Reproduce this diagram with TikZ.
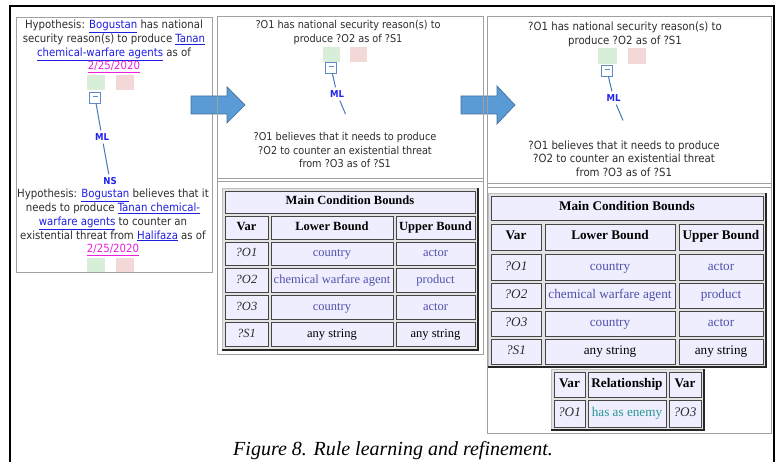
\documentclass[tikz,border=0pt]{standalone}
\usepackage{fontspec}
\setmainfont{Liberation Serif}
\newfontfamily\tah{DejaVu Sans Condensed}
\usetikzlibrary{calc}
\definecolor{linkblue}{RGB}{30,30,225}
\definecolor{datemag}{RGB}{235,30,225}
\definecolor{txtgray}{RGB}{45,45,45}
\definecolor{sqgreen}{RGB}{216,238,216}
\definecolor{sqpink}{RGB}{243,216,216}
\definecolor{minusblue}{RGB}{95,140,200}
\definecolor{connblue}{RGB}{70,120,185}
\definecolor{mlblue}{RGB}{35,35,240}
\definecolor{cellfill}{RGB}{238,238,254}
\definecolor{valblue}{RGB}{80,80,170}
\definecolor{relteal}{RGB}{40,150,150}
\definecolor{arrfill}{RGB}{91,155,213}
\definecolor{arrdraw}{RGB}{65,113,156}
\definecolor{panelgray}{RGB}{160,160,160}
\newcommand{\lnk}[1]{\textcolor{linkblue}{\underline{#1}}}
\newcommand{\dte}[1]{\textcolor{datemag}{\underline{#1}}}
\newcommand{\tblcell}[6]{\node[tcellsty, minimum width={(#4-#2)*1pt}, minimum height={(#5-#3)*1pt}] (#1) at ({(#2+#4)/2},{(#3+#5)/2}) {#6};}
\tikzset{
  panel/.style={draw=panelgray, line width=0.8pt},
  ptxt/.style={align=center, text=txtgray, inner sep=0pt},
  sqg/.style={fill=sqgreen, draw=none},
  sqp/.style={fill=sqpink, draw=none},
  minusbox/.style={draw=minusblue, fill=white, line width=0.8pt, minimum width=11pt, minimum height=11pt, inner sep=0pt},
  mllabel/.style={text=mlblue, font=\tah\bfseries\fontsize{9.5}{10}\selectfont, inner sep=3pt},
  conn/.style={draw=connblue, line width=1pt},
  tcellsty/.style={draw=gray!55!black, line width=0.5pt, fill=cellfill, inner sep=0pt, text height=8.5pt, text depth=2.5pt, font=\fontsize{12.5}{14}\selectfont},
  tblframe/.style={draw=gray!50, fill=gray!22, line width=0.8pt},
  blockarrow/.style={fill=arrfill, draw=arrdraw, line width=0.7pt},
}
\begin{document}
\begin{tikzpicture}[x=1pt, y=-1pt]
\useasboundingbox (0,0) rectangle (778,462);
\clip (0,0) rectangle (778,462);
\fill[white] (0,0) rectangle (778,462);
% outer frame
\draw[line width=2.5pt] (10,6) rectangle (774,490);

% ---------- left panel ----------
\draw[panel] (16,17) rectangle (212,272);
\node[ptxt, font=\tah\fontsize{11.3}{13.8}\selectfont] (lt) at (114,46.5)
 {Hypothesis: \lnk{Bogustan} has national\\ security reason(s) to produce \lnk{Tanan}\\ \lnk{chemical-warfare agents} as of\\ \dte{2/25/2020}};
\fill[sqg] (87,75) rectangle (105,90);
\fill[sqp] (116,75) rectangle (134,90);
\node[minusbox] (mb1) at (95,97.5) {\textcolor{minusblue}{\rule[2.3pt]{5pt}{0.8pt}}};
\node[mllabel] (ml1) at (102,137) {ML};
\node[mllabel] (ns1) at (110,181) {NS};
\draw[conn] (mb1) -- (ml1);
\draw[conn] (ml1) -- (ns1);
\node[ptxt, font=\tah\fontsize{11.3}{13.8}\selectfont] (lb) at (113,222.5)
 {Hypothesis: \lnk{Bogustan} believes that it\\ needs to produce \lnk{Tanan chemical-}\\ \lnk{warfare agents} to counter an\\ existential threat from \lnk{Halifaza} as of\\ \dte{2/25/2020}};
\fill[sqg] (87,258) rectangle (105,271.5);
\fill[sqp] (116,258) rectangle (134,271.5);

% ---------- arrows ----------
\filldraw[blockarrow] (191,96) -- (227,96) -- (227,87) -- (245,105) -- (227,123) -- (227,114) -- (191,114) -- cycle;
\filldraw[blockarrow] (461,96) -- (497,96) -- (497,86) -- (515,105) -- (497,124) -- (497,114) -- (461,114) -- cycle;

% ---------- middle panel ----------
\draw[panel] (217,16) rectangle (483,354);
\draw[panel] (217,178) -- (483,178);
\draw[panel] (217,181.5) -- (483,181.5);
\node[ptxt, font=\tah\fontsize{10.8}{14}\selectfont] (mt) at (348,33)
 {?O1 has national security reason(s) to\\ produce ?O2 as of ?S1};
\fill[sqg] (323,47) rectangle (340,62);
\fill[sqp] (350,47) rectangle (367,62);
\node[minusbox] (mb2) at (331,67.5) {\textcolor{minusblue}{\rule[2.3pt]{5pt}{0.8pt}}};
\node[mllabel] (ml2) at (337,94) {ML};
\coordinate (end2) at (345.5,114);
\draw[conn] (mb2) -- (ml2);
\draw[conn] (ml2) -- (end2);
\node[ptxt, font=\tah\fontsize{10.8}{13.4}\selectfont] (mbt) at (345,150)
 {?O1 believes that it needs to produce\\ ?O2 to counter an existential threat\\ from ?O3 as of ?S1};
% table
\draw[tblframe] (222,188) rectangle (478,350);
\draw[gray!30!black, line width=1.2pt] (478,188) -- (478,350) -- (222,350);
\tblcell{mT}{225}{191}{475}{213}{\textbf{Main Condition Bounds}}
\tblcell{mh1}{225}{216}{268}{239}{\textbf{Var}}
\tblcell{mh2}{271}{216}{393}{239}{\textbf{Lower Bound}}
\tblcell{mh3}{396}{216}{475}{239}{\textbf{Upper Bound}}
\tblcell{ma1}{225}{242}{268}{265}{\textcolor{txtgray}{\itshape ?O1}}
\tblcell{ma2}{271}{242}{393}{265}{\textcolor{valblue}{country}}
\tblcell{ma3}{396}{242}{475}{265}{\textcolor{valblue}{actor}}
\tblcell{mb1c}{225}{268}{268}{292}{\textcolor{txtgray}{\itshape ?O2}}
\tblcell{mb2c}{271}{268}{393}{292}{\textcolor{valblue}{chemical warfare agent}}
\tblcell{mb3c}{396}{268}{475}{292}{\textcolor{valblue}{product}}
\tblcell{mc1}{225}{295}{268}{319}{\textcolor{txtgray}{\itshape ?O3}}
\tblcell{mc2}{271}{295}{393}{319}{\textcolor{valblue}{country}}
\tblcell{mc3}{396}{295}{475}{319}{\textcolor{valblue}{actor}}
\tblcell{md1}{225}{322}{268}{346}{\textcolor{txtgray}{\itshape ?S1}}
\tblcell{md2}{271}{322}{393}{346}{any string}
\tblcell{md3}{396}{322}{475}{346}{any string}

% ---------- right panel ----------
\draw[panel] (487,16) rectangle (771,433);
\draw[panel] (487,183) -- (771,183);
\draw[panel] (487,187) -- (771,187);
\node[ptxt, font=\tah\fontsize{11.3}{14.5}\selectfont] (rt) at (625,34.5)
 {?O1 has national security reason(s) to\\ produce ?O2 as of ?S1};
\fill[sqg] (598,48) rectangle (617,64);
\fill[sqp] (628,48) rectangle (646,64);
\node[minusbox] (mb3) at (607,70.5) {\textcolor{minusblue}{\rule[2.3pt]{5pt}{0.8pt}}};
\node[mllabel] (ml3) at (613.5,98) {ML};
\coordinate (end3) at (623,120.5);
\draw[conn] (mb3) -- (ml3);
\draw[conn] (ml3) -- (end3);
\node[ptxt, font=\tah\fontsize{11.3}{13.5}\selectfont] (rbt) at (624,158.5)
 {?O1 believes that it needs to produce\\ ?O2 to counter an existential threat\\ from ?O3 as of ?S1};
% right table
\begin{scope}[tcellsty/.append style={font=\fontsize{13.2}{14}\selectfont}]
\draw[tblframe] (488,193) rectangle (766,367);
\draw[gray!30!black, line width=1.2pt] (766,193) -- (766,367) -- (488,367);
\tblcell{rT}{491}{196}{763}{220}{\textbf{Main Condition Bounds}}
\tblcell{rh1}{491}{224}{541}{250}{\textbf{Var}}
\tblcell{rh2}{545}{224}{675}{250}{\textbf{Lower Bound}}
\tblcell{rh3}{679}{224}{763}{250}{\textbf{Upper Bound}}
\tblcell{ra1}{491}{254}{541}{280}{\textcolor{txtgray}{\itshape ?O1}}
\tblcell{ra2}{545}{254}{675}{280}{\textcolor{valblue}{country}}
\tblcell{ra3}{679}{254}{763}{280}{\textcolor{valblue}{actor}}
\tblcell{rb1}{491}{283}{541}{308}{\textcolor{txtgray}{\itshape ?O2}}
\tblcell{rb2}{545}{283}{675}{308}{\textcolor{valblue}{chemical warfare agent}}
\tblcell{rb3}{679}{283}{763}{308}{\textcolor{valblue}{product}}
\tblcell{rc1}{491}{311}{541}{336}{\textcolor{txtgray}{\itshape ?O3}}
\tblcell{rc2}{545}{311}{675}{336}{\textcolor{valblue}{country}}
\tblcell{rc3}{679}{311}{763}{336}{\textcolor{valblue}{actor}}
\tblcell{rd1}{491}{339}{541}{364}{\textcolor{txtgray}{\itshape ?S1}}
\tblcell{rd2}{545}{339}{675}{364}{any string}
\tblcell{rd3}{679}{339}{763}{364}{any string}
% relationship table
\draw[tblframe] (551,369) rectangle (704,430);
\draw[gray!30!black, line width=1.2pt] (704,369) -- (704,430) -- (551,430);
\tblcell{sh1}{554}{372}{585}{397}{\textbf{Var}}
\tblcell{sh2}{588}{372}{666}{397}{\textbf{Relationship}}
\tblcell{sh3}{669}{372}{701}{397}{\textbf{Var}}
\tblcell{sa1}{554}{400}{585}{427}{\textcolor{txtgray}{\itshape ?O1}}
\tblcell{sa2}{588}{400}{666}{427}{\textcolor{relteal}{has as enemy}}
\tblcell{sa3}{669}{400}{701}{427}{\textcolor{txtgray}{\itshape ?O3}}
\end{scope}

% caption
\node[anchor=base, inner sep=0pt, font=\itshape\fontsize{20}{24}\selectfont] (cap) at (393,455) {Figure 8. Rule learning and refinement.};
\end{tikzpicture}
\end{document}
